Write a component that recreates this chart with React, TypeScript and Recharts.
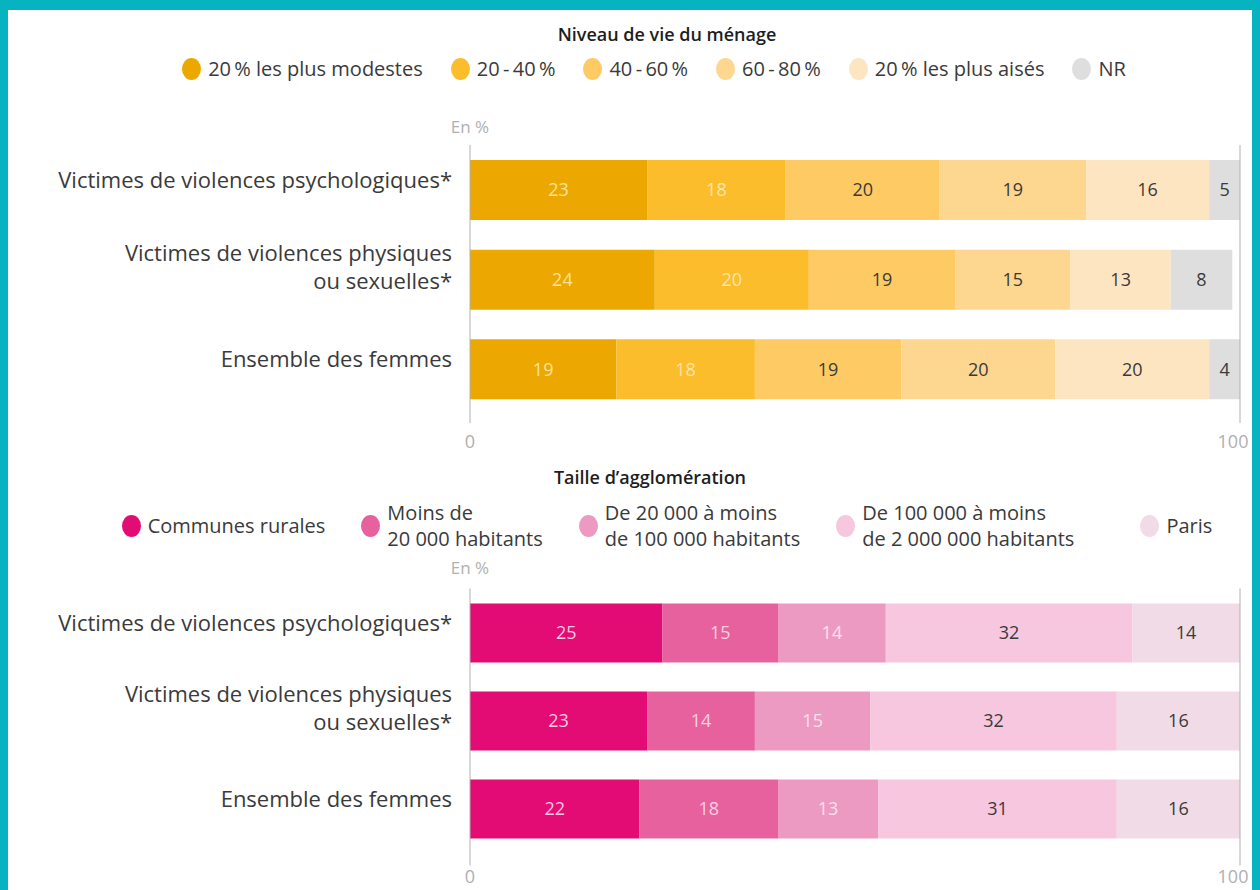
import React from "react";
import { BarChart, Bar, XAxis, YAxis, LabelList, ReferenceLine } from "recharts";

// categories (shared by both panels)
const categories = [
  "Victimes de violences psychologiques*",
  "Victimes de violences physiques\nou sexuelles*",
  "Ensemble des femmes",
];
const xTicks = [0, 100];

// Niveau de vie du ménage
const incomeNames = [
  "20\u2009% les plus modestes",
  "20\u2009-\u200940\u2009%",
  "40\u2009-\u200960\u2009%",
  "60\u2009-\u200980\u2009%",
  "20\u2009% les plus aisés",
  "NR",
];
const incomeQ1 = [23, 24, 19];
const incomeQ2 = [18, 20, 18];
const incomeQ3 = [20, 19, 19];
const incomeQ4 = [19, 15, 20];
const incomeQ5 = [16, 13, 20];
const incomeNR = [5, 8, 4];
const incomeColors = ["#eca800", "#fbbd2c", "#fdca64", "#fdd690", "#fee5c2", "#dedede"];
const incomeLabelColors = ["#fde29a", "#fde6a8", "#3a3a3a", "#3a3a3a", "#3a3a3a", "#3a3a3a"];

// Taille d'agglomération
const cityNames = [
  "Communes rurales",
  "Moins de\n20 000 habitants",
  "De 20 000 à moins\nde 100 000 habitants",
  "De 100 000 à moins\nde 2 000 000 habitants",
  "Paris",
];
const cityRural = [25, 23, 22];
const citySmall = [15, 14, 18];
const cityMedium = [14, 15, 13];
const cityLarge = [32, 32, 31];
const cityParis = [14, 16, 16];
const cityColors = ["#e30c74", "#e6619d", "#ec9ac2", "#f6c7de", "#f1dbe6"];
const cityLabelColors = ["#fbc9e0", "#fbd0e3", "#fde0ec", "#3a3a3a", "#3a3a3a"];

const incomeSeries = [incomeQ1, incomeQ2, incomeQ3, incomeQ4, incomeQ5, incomeNR];
const citySeries = [cityRural, citySmall, cityMedium, cityLarge, cityParis];

const buildRows = (series: number[][]) =>
  categories.map((name, i) => {
    const row: any = { name };
    series.forEach((s, k) => (row["s" + k] = s[i]));
    return row;
  });

const FONT = '"Open Sans", sans-serif';
const TEAL = "#07b3c1";
const AXIS_GREY = "#b0b0b0";

function CategoryTick({ x, y, payload }: any) {
  const lines = String(payload.value).split("\n");
  const first = y - 2 - (lines.length - 1) * 17;
  return (
    <text x={x} y={first} textAnchor="end" fill="#3a3a3a" fontSize={22} fontFamily={FONT}>
      {lines.map((l, i) => (
        <tspan key={i} x={x} dy={i === 0 ? 0 : 28}>
          {l}
        </tspan>
      ))}
    </text>
  );
}

// keeps the "100" label clear of the right frame
function ValueTick({ x, y, payload }: any) {
  const shift = payload.value === 100 ? -7 : 0;
  return (
    <text x={x + shift} y={y} dy="0.71em" textAnchor="middle" fill={AXIS_GREY} fontSize={18} fontFamily={FONT}>
      {payload.value}
    </text>
  );
}

function Panel({ series, colors, labelColors, names, height, top, bottom, barSize, tickSize, tickMargin }: any) {
  const rows = buildRows(series);
  return (
    <BarChart
      width={1260}
      height={height}
      data={rows}
      layout="vertical"
      barSize={barSize}
      margin={{ top, right: 20, bottom, left: 0 }}
    >
      <XAxis
        type="number"
        domain={[0, 100]}
        ticks={xTicks}
        allowDataOverflow
        axisLine={false}
        height={30}
        tickSize={tickSize}
        tickMargin={tickMargin}
        tickLine={{ stroke: AXIS_GREY }}
        tick={<ValueTick />}
      />
      <YAxis
        type="category"
        dataKey="name"
        width={470}
        axisLine={false}
        tickLine={false}
        tickSize={0}
        tickMargin={18}
        tick={<CategoryTick />}
      />
      <ReferenceLine x={0} stroke={AXIS_GREY} />
      <ReferenceLine x={100} stroke={AXIS_GREY} />
      {colors.map((c: string, k: number) => (
        <Bar key={k} dataKey={"s" + k} name={names[k]} stackId="a" fill={c} isAnimationActive={false}>
          <LabelList dataKey={"s" + k} position="center" fill={labelColors[k]} fontSize={18} fontFamily={FONT} />
        </Bar>
      ))}
    </BarChart>
  );
}

function LegendItem({ color, label, extra }: { color: string; label: string; extra?: number }) {
  return (
    <div style={{ display: "flex", alignItems: "center", marginLeft: extra || 0 }}>
      <span
        style={{
          display: "inline-block",
          width: 19,
          height: 22,
          borderRadius: "50%",
          background: color,
          marginRight: 7,
          flexShrink: 0,
        }}
      />
      <span style={{ whiteSpace: "pre", lineHeight: "26px" }}>{label}</span>
    </div>
  );
}

export default function App() {
  return (
    <div
      style={{
        position: "fixed",
        left: 0,
        top: 0,
        width: 1260,
        height: 890,
        background: "#fff",
        fontFamily: FONT,
        color: "#3a3a3a",
        overflow: "hidden",
      }}
    >
      <div style={{ position: "absolute", left: 0, top: 0 }}>
        <Panel
          series={incomeSeries}
          colors={incomeColors}
          labelColors={incomeLabelColors}
          names={incomeNames}
          height={460}
          top={145}
          bottom={16}
          barSize={60}
          tickSize={9}
          tickMargin={12}
        />
      </div>
      <div style={{ position: "absolute", left: 0, top: 460 }}>
        <Panel
          series={citySeries}
          colors={cityColors}
          labelColors={cityLabelColors}
          names={cityNames}
          height={430}
          top={128.5}
          bottom={7.5}
          barSize={59}
          tickSize={13}
          tickMargin={5}
        />
      </div>

      <div
        style={{
          position: "absolute",
          left: 467,
          top: 22,
          width: 400,
          textAlign: "center",
          fontSize: 18,
          fontWeight: 600,
          color: "#1e1e1e",
        }}
      >
        Niveau de vie du ménage
      </div>
      <div
        style={{
          position: "absolute",
          left: 0,
          top: 56,
          width: 1308,
          display: "flex",
          justifyContent: "center",
          gap: 28,
          fontSize: 20,
        }}
      >
        {incomeNames.map((n, k) => (
          <LegendItem key={k} color={incomeColors[k]} label={n} />
        ))}
      </div>
      <div style={{ position: "absolute", left: 420, top: 115, width: 100, textAlign: "center", fontSize: 17, color: AXIS_GREY }}>
        En %
      </div>

      <div
        style={{
          position: "absolute",
          left: 450,
          top: 465,
          width: 400,
          textAlign: "center",
          fontSize: 18,
          fontWeight: 600,
          color: "#1e1e1e",
        }}
      >
        Taille d’agglomération
      </div>
      <div
        style={{
          position: "absolute",
          left: 0,
          top: 500,
          width: 1334,
          display: "flex",
          justifyContent: "center",
          alignItems: "center",
          gap: 36,
          fontSize: 20,
        }}
      >
        {cityNames.map((n, k) => (
          <LegendItem key={k} color={cityColors[k]} label={n} extra={k === 4 ? 30 : 0} />
        ))}
      </div>
      <div style={{ position: "absolute", left: 420, top: 556, width: 100, textAlign: "center", fontSize: 17, color: AXIS_GREY }}>
        En %
      </div>

      <div style={{ position: "absolute", left: 0, top: 0, width: 1260, height: 10, background: TEAL, zIndex: 5 }} />
      <div style={{ position: "absolute", left: 0, top: 0, width: 8, height: 890, background: TEAL, zIndex: 5 }} />
      <div style={{ position: "absolute", left: 1252, top: 0, width: 8, height: 890, background: TEAL, zIndex: 5 }} />
    </div>
  );
}
